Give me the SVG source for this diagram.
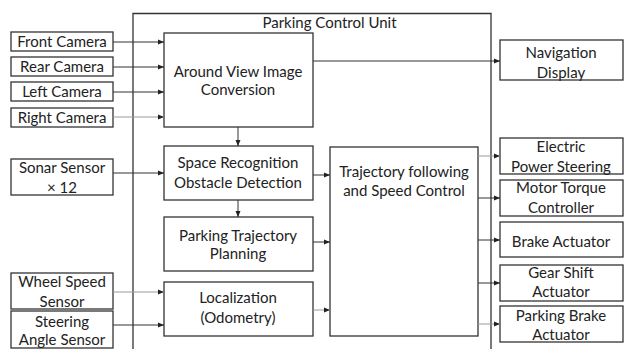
<svg xmlns="http://www.w3.org/2000/svg" width="624" height="349" viewBox="0 0 624 349">
<defs>
<style>
.box{fill:#fff;stroke:#333;stroke-width:1.3}
.t{font-family:Lato,"Liberation Sans",Arial,sans-serif;font-size:15px;fill:#222;text-anchor:middle}
.c{stroke:#333;stroke-width:1;fill:none;marker-end:url(#ah)}
.cl{stroke:#999;stroke-width:1;fill:none;marker-end:url(#ah)}
</style>
<marker id="ah" viewBox="0 0 6 6" refX="6" refY="3" markerWidth="6" markerHeight="6" markerUnits="userSpaceOnUse" orient="auto">
<path d="M0,0.5 L6,3 L0,5.5 Z" fill="#222"/>
</marker>
</defs>
<rect width="624" height="349" fill="#fff"/>
<g id="pcu">
<path d="M133,352 V13.5 H491 V352" fill="none" stroke="#333" stroke-width="1.3"/>
<text class="t" x="329.5" y="28">Parking Control Unit</text>
</g>
<g id="front-camera"><rect class="box" x="11" y="32" width="102" height="19"/><text class="t" x="62" y="47">Front Camera</text></g>
<g id="rear-camera"><rect class="box" x="11" y="57" width="102" height="19"/><text class="t" x="62" y="72">Rear Camera</text></g>
<g id="left-camera"><rect class="box" x="11" y="82" width="102" height="19"/><text class="t" x="62" y="97">Left Camera</text></g>
<g id="right-camera"><rect class="box" x="11" y="108" width="102" height="19"/><text class="t" x="62" y="123">Right Camera</text></g>
<g id="sonar"><rect class="box" x="11" y="159" width="102" height="36"/><text class="t" x="62" y="173">Sonar Sensor</text><text class="t" x="62" y="193">× 12</text></g>
<g id="wheel-speed"><rect class="box" x="11" y="273" width="102" height="36"/><text class="t" x="62" y="287">Wheel Speed</text><text class="t" x="62" y="307">Sensor</text></g>
<g id="steering-angle"><rect class="box" x="11" y="311" width="102" height="37"/><text class="t" x="62" y="327">Steering</text><text class="t" x="62" y="345">Angle Sensor</text></g>
<g id="around-view"><rect class="box" x="164" y="33" width="149" height="94"/><text class="t" x="238" y="77">Around View Image</text><text class="t" x="238" y="95">Conversion</text></g>
<g id="space-recognition"><rect class="box" x="164" y="146" width="149" height="54"/><text class="t" x="238" y="168">Space Recognition</text><text class="t" x="238" y="188">Obstacle Detection</text></g>
<g id="trajectory-planning"><rect class="box" x="164" y="217" width="149" height="54"/><text class="t" x="238" y="241">Parking Trajectory</text><text class="t" x="238" y="259">Planning</text></g>
<g id="localization"><rect class="box" x="164" y="282" width="149" height="54"/><text class="t" x="238" y="303">Localization</text><text class="t" x="238" y="323">(Odometry)</text></g>
<g id="trajectory-following"><rect class="box" x="330" y="147" width="148" height="189"/><text class="t" x="404" y="177">Trajectory following</text><text class="t" x="404" y="196">and Speed Control</text></g>
<g id="navigation"><rect class="box" x="500" y="40" width="123" height="40"/><text class="t" x="561" y="58">Navigation</text><text class="t" x="561" y="78">Display</text></g>
<g id="eps"><rect class="box" x="500" y="138" width="123" height="36"/><text class="t" x="561" y="152">Electric</text><text class="t" x="561" y="172">Power Steering</text></g>
<g id="motor-torque"><rect class="box" x="500" y="180" width="123" height="36"/><text class="t" x="561" y="193">Motor Torque</text><text class="t" x="561" y="213">Controller</text></g>
<g id="brake"><rect class="box" x="500" y="222" width="123" height="35"/><text class="t" x="561" y="247">Brake Actuator</text></g>
<g id="gear-shift"><rect class="box" x="500" y="265" width="123" height="36"/><text class="t" x="561" y="278">Gear Shift</text><text class="t" x="561" y="297">Actuator</text></g>
<g id="parking-brake"><rect class="box" x="500" y="306" width="123" height="36"/><text class="t" x="561" y="321">Parking Brake</text><text class="t" x="561" y="340">Actuator</text></g>
<g id="connectors">
<path class="c" d="M113,42 H164"/>
<path class="c" d="M113,67 H164"/>
<path class="c" d="M113,92 H164"/>
<path class="cl" d="M113,117 H164"/>
<path class="c" d="M113,173 H164"/>
<path class="cl" d="M113,292 H164"/>
<path class="c" d="M113,325 H164"/>
<path class="c" d="M238,127 V146"/>
<path class="c" d="M238,200 V217"/>
<path class="c" d="M313,61 H500"/>
<path class="c" d="M313,175 H330"/>
<path class="c" d="M313,242 H330"/>
<path class="cl" d="M313,310 H330"/>
<path class="cl" d="M478,156 H500"/>
<path class="c" d="M478,198 H500"/>
<path class="c" d="M478,240 H500"/>
<path class="c" d="M478,283 H500"/>
<path class="cl" d="M478,324 H500"/>
</g>
</svg>
